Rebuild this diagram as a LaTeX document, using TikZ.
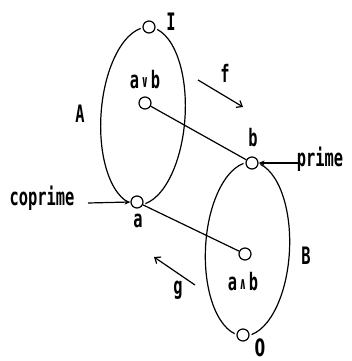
\documentclass[tikz,border=0pt]{standalone}
\usepackage{fontspec}
\newfontfamily\lbl{DejaVu Sans Mono}[FakeStretch=0.64]
\newfontfamily\lbls{DejaVu Sans}[FakeStretch=0.64]
\usetikzlibrary{arrows.meta}
\begin{document}
\begin{tikzpicture}[x=1pt,y=-1pt,line width=1.2pt,
  pt/.style={circle,draw,fill=white,minimum size=12pt,inner sep=0pt,
    preaction={draw=white,line width=5pt}},
  lab/.style={font=\lbl\bfseries\fontsize{24}{26}\selectfont,inner sep=1pt},
  maparrow/.style={-{Straight Barb[length=5pt,width=8pt]}},
  pointer/.style={-{Stealth[length=6pt,width=5pt]}}]
\useasboundingbox (0,0) rectangle (351,361);
% ellipses
\draw[rotate around={-4:(143,116)}] (143,116) ellipse [x radius=42, y radius=89];
\draw[rotate around={-3:(247.5,249)}] (247.5,249) ellipse [x radius=42, y radius=87];
% points
\node[pt] (I) at (149,27) {};
\node[pt] (avb) at (145,103) {};
\node[pt] (a) at (137,202) {};
\node[pt] (b) at (252,163) {};
\node[pt] (awb) at (245,254) {};
\node[pt] (O) at (243,335) {};
% connecting lines
\draw (avb) -- (b);
\draw (a) -- (awb);
% labels
\node[lab] (lI) at (171,22) {I};
\node[lab] (lA) at (80,114) {A};
\node[lab] (lavb) at (145,80) {a\hspace{2.5pt}\raisebox{1pt}{\fontsize{17}{17}\selectfont ∨}\hspace{2.5pt}b};
\node[lab] (lf) at (225,73) {f};
\node[lab] (lb) at (253,138) {b};
\node[lab] (lprime) at (320,159) {prime};
\node[lab] (lcoprime) at (42,198) {coprime};
\node[lab] (la) at (138,221) {a};
\node[lab] (lB) at (306,256) {B};
\node[lab] (lawb) at (243,282) {a\hspace{2.5pt}\raisebox{1pt}{\fontsize{17}{17}\selectfont ∧}\hspace{2.5pt}b};
\node[lab] (lg) at (178,290) {g};
\node[lab,font=\lbls\bfseries\fontsize{24}{26}\selectfont] (lO) at (260,348) {0};
% arrows
\coordinate (fs) at (198,80);
\coordinate (fe) at (243,107);
\draw[maparrow] (fs) -- (fe);
\coordinate (gs) at (195,285);
\coordinate (ge) at (154,257);
\draw[maparrow] (gs) -- (ge);
\coordinate (ps) at (300,163);
\draw[pointer] (ps) -- (b.east);
\coordinate (cs) at (88,203);
\draw[pointer] (cs) -- (a.west);
\end{tikzpicture}
\end{document}
